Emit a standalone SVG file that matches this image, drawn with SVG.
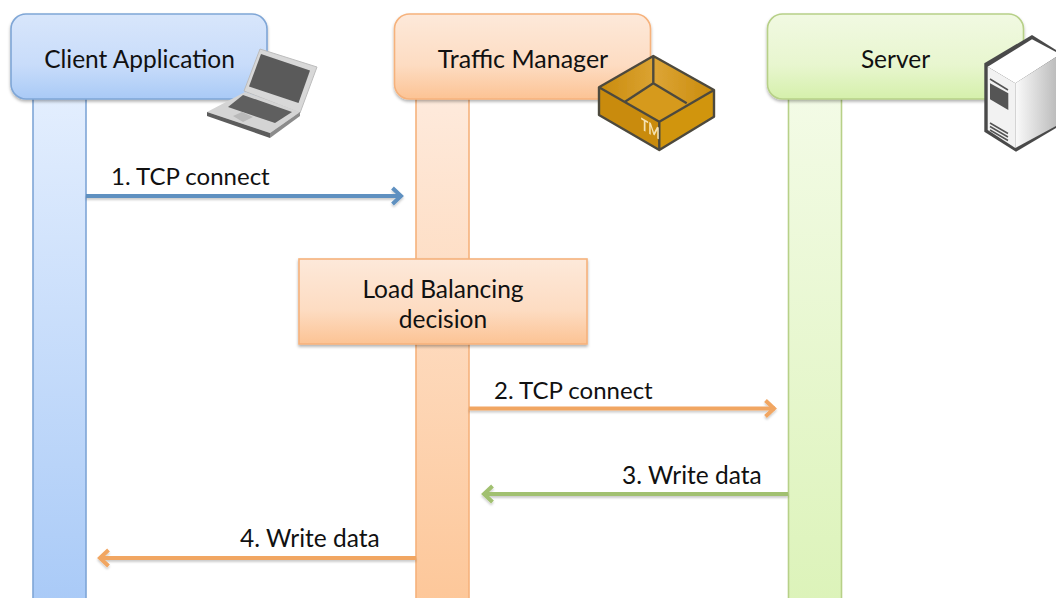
<svg xmlns="http://www.w3.org/2000/svg" width="1056" height="598" viewBox="0 0 1056 598">
<style>
text{font-family:"Lato","Open Sans","Liberation Sans",sans-serif;font-size:24px;fill:#111}
.m{text-anchor:middle}
.w{font-size:24.500px}
.b{stroke:#7fa6d6;stroke-width:1.600}
.o{stroke:#f6b27c;stroke-width:1.600}
.g{stroke:#b7d088;stroke-width:1.600}
.c{fill:none;stroke-width:3.800}
</style>
<defs>
<linearGradient id="bh" x1="0" y1="0" x2="0" y2="1"><stop offset="0" stop-color="#d8e6fb"/><stop offset=".6" stop-color="#c8dcfa"/><stop offset="1" stop-color="#a9caf6"/></linearGradient>
<linearGradient id="oh" x1="0" y1="0" x2="0" y2="1"><stop offset="0" stop-color="#fde9da"/><stop offset=".6" stop-color="#fddcc2"/><stop offset="1" stop-color="#fcc394"/></linearGradient>
<linearGradient id="gh" x1="0" y1="0" x2="0" y2="1"><stop offset="0" stop-color="#f1f9e2"/><stop offset=".6" stop-color="#e8f6cf"/><stop offset="1" stop-color="#d5f0ab"/></linearGradient>
<linearGradient id="bl" x1="0" y1="0" x2="0" y2="1"><stop offset="0" stop-color="#e3eefe"/><stop offset="1" stop-color="#a9caf7"/></linearGradient>
<linearGradient id="ol" x1="0" y1="0" x2="0" y2="1"><stop offset="0" stop-color="#feeadc"/><stop offset="1" stop-color="#fdc799"/></linearGradient>
<linearGradient id="gl" x1="0" y1="0" x2="0" y2="1"><stop offset="0" stop-color="#f3fbe6"/><stop offset="1" stop-color="#dcf3b9"/></linearGradient>
<linearGradient id="srv" x1="0" y1="0" x2="1" y2="0"><stop offset="0" stop-color="#fafafa"/><stop offset="1" stop-color="#bdbdbd"/></linearGradient>
<linearGradient id="boxi" x1="0" y1="0" x2="1" y2="0"><stop offset="0" stop-color="#c98b0c"/><stop offset=".5" stop-color="#dca434"/><stop offset="1" stop-color="#c98b0c"/></linearGradient>
<filter id="sh" x="-10%" y="-10%" width="120%" height="125%"><feDropShadow dx="0" dy="2" stdDeviation="1.600" flood-color="#000" flood-opacity=".3"/></filter>
<filter id="ls" filterUnits="userSpaceOnUse" x="0" y="0" width="1056" height="598"><feGaussianBlur in="SourceGraphic" stdDeviation=".35" result="a"/><feDropShadow in="a" dx="0" dy="2" stdDeviation="1.200" flood-color="#000" flood-opacity=".2"/></filter>
<filter id="soft"><feGaussianBlur stdDeviation=".4"/></filter>
<marker id="ab" markerUnits="userSpaceOnUse" markerWidth="18" markerHeight="24" refX="15" refY="12" orient="auto"><path d="M5.500 4L14 12L5.500 20" fill="none" stroke="#5e90c0" stroke-width="4"/></marker>
<marker id="ao" markerUnits="userSpaceOnUse" markerWidth="18" markerHeight="24" refX="15" refY="12" orient="auto"><path d="M5.500 4L14 12L5.500 20" fill="none" stroke="#f1a662" stroke-width="4"/></marker>
<marker id="ag" markerUnits="userSpaceOnUse" markerWidth="18" markerHeight="24" refX="15" refY="12" orient="auto"><path d="M5.500 4L14 12L5.500 20" fill="none" stroke="#a1c06f" stroke-width="4"/></marker>
</defs>
<rect width="1056" height="598" fill="#fff"/>

<g id="client">
<rect class="b" x="33" y="96" width="53" height="510" fill="url(#bl)"/>
<rect class="b" x="11" y="14" width="256" height="85" rx="15" fill="url(#bh)" filter="url(#sh)"/>
<text class="m w" x="139.500" y="68">Client Application</text>
</g>
<g id="traffic-manager">
<rect class="o" x="416" y="96" width="53" height="510" fill="url(#ol)"/>
<rect class="o" x="394.500" y="14" width="256" height="85" rx="15" fill="url(#oh)" filter="url(#sh)"/>
<text class="m" style="font-size:25px" x="523" y="68">Traffic Manager</text>
</g>
<g id="server">
<rect class="g" x="788.500" y="96" width="53" height="510" fill="url(#gl)"/>
<rect class="g" x="767.500" y="14" width="256" height="85" rx="15" fill="url(#gh)" filter="url(#sh)"/>
<text class="m w" x="895.500" y="68">Server</text>
</g>
<g id="load-balancing">
<rect class="o" x="299" y="259" width="288" height="85" fill="url(#oh)" filter="url(#sh)"/>
<text class="m w" x="443" y="298">Load Balancing</text>
<text class="m w" x="443" y="328">decision</text>
</g>

<g id="connectors" filter="url(#ls)">
<path class="c" stroke="#5e90c0" d="M86 196H402" marker-end="url(#ab)"/>
<path class="c" stroke="#f1a662" d="M469 408.500H775" marker-end="url(#ao)"/>
<path class="c" stroke="#a1c06f" d="M788 494H483" marker-end="url(#ag)"/>
<path class="c" stroke="#f1a662" d="M416 558H99" marker-end="url(#ao)"/>
</g>
<g id="labels">
<text x="111" y="185">1. TCP connect</text>
<text x="494" y="399">2. TCP connect</text>
<text class="w" x="622" y="484">3. Write data</text>
<text class="w" x="240" y="547">4. Write data</text>
</g>

<g id="laptop" filter="url(#soft)">
<path d="M260 49L317 67L300 113L244 91Z" fill="#d8d8d8" stroke="#bcbcbc"/>
<path d="M261 54L310 70.500L298.500 103L249 86.500Z" fill="#5a5a5a"/>
<path d="M207 112L245 92L300 112L270 133Z" fill="#d4d4d4"/>
<path d="M207 112L270 133L270 138L207 116Z" fill="#5c5c5c"/>
<path d="M270 133L300 112L300 116L270 138Z" fill="#8b8b8b"/>
<path d="M228 107L243 95L292 112L275 123Z" fill="#5e5e5e"/>
<path d="M233 116L242 112L253 117L243 122Z" fill="#b9b9b9"/>
</g>
<g id="tm-box" filter="url(#soft)">
<path d="M653.300 56L714 90V116.700L659.300 150L599 115V87.300Z" fill="#c98b0c"/>
<path d="M653.300 56L714 90L659.300 121.700L599 87.300Z" fill="url(#boxi)"/>
<path d="M625 101.700L653.300 83.300L686.700 103.300L659.300 121.700Z" fill="#d69a1e"/>
<path d="M659.300 121.700V150L714 116.700V90Z" fill="#d1950f"/>
<path d="M653.300 56L714 90V116.700L659.300 150L599 115V87.300ZM599 87.300L659.300 121.700L714 90M659.300 121.700V150M653.300 56V83.300M625 101.700L653.300 83.300L686.700 103.300" fill="none" stroke="#4d4a3e" stroke-width="2.400" stroke-linejoin="round"/>
<text transform="translate(641 129) rotate(30) skewX(30)" style="font-size:14px;font-weight:700;fill:#f6e3b4">TM</text>
</g>
<g id="server-icon" filter="url(#soft)">
<path d="M1032 35L984.300 63.300V131.700L1016 151.700L1056 128V50Z" fill="#4a4a4a"/>
<path d="M1032 39.300L987.700 66.700L1015.300 83.300L1056 57V52Z" fill="#fff"/>
<path d="M987.700 66.700L1015.300 83.300V148L987.700 130Z" fill="#f2f2f2"/>
<path d="M1015.300 83.300L1056 57V126L1015.300 148Z" fill="url(#srv)"/>
<path d="M990 83.300L1008.300 93.300V110L990 99.300Z" fill="#555"/>
<path d="M990 79L1008 90M990 123L1008 133.500M990 126.500L1008 137M990 130L1008 140.500" stroke="#555" stroke-width="1.500" fill="none"/>
</g>
</svg>
